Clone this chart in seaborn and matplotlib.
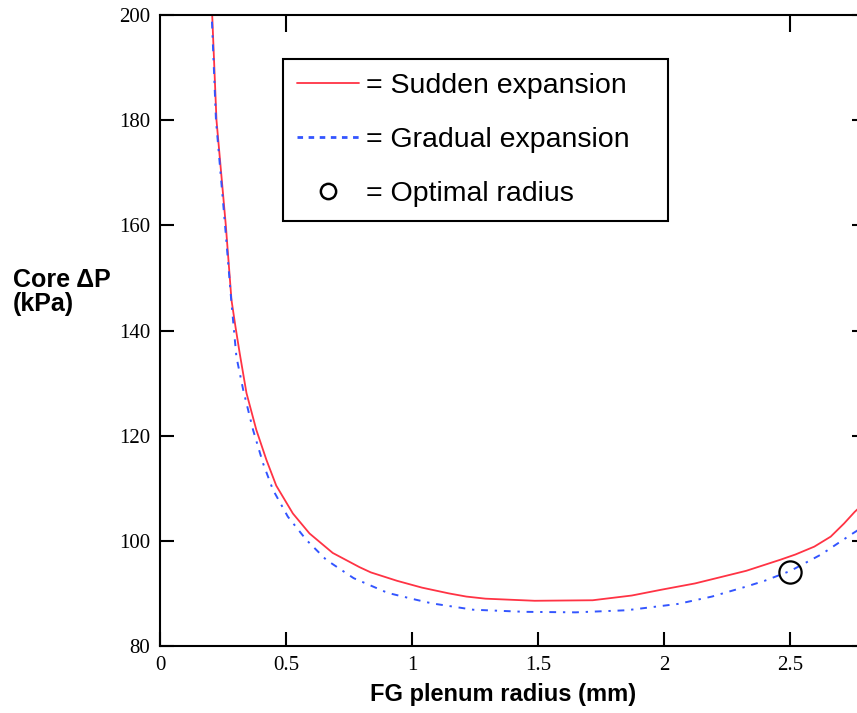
import matplotlib
matplotlib.use("Agg")
import matplotlib.pyplot as plt
from matplotlib.lines import Line2D
import seaborn as sns
import pandas as pd

# ---- data ----
sudden_x = [0.200, 0.207, 0.224, 0.261, 0.2835, 0.300, 0.316, 0.343, 0.382, 0.422,
            0.461, 0.527, 0.593, 0.685, 0.791, 0.836, 0.940, 1.039, 1.146, 1.215,
            1.291, 1.486, 1.716, 1.871, 1.988, 2.122, 2.266, 2.325, 2.460, 2.520,
            2.595, 2.660, 2.713, 2.755, 2.800]
sudden_y = [204.0, 200.0, 180.0, 160.0, 145.8, 140.5, 135.7, 128.1, 121.1, 115.4,
            110.5, 105.2, 101.4, 97.7, 95.0, 94.0, 92.4, 91.1, 90.0, 89.4,
            89.0, 88.6, 88.7, 89.6, 90.7, 91.9, 93.6, 94.3, 96.4, 97.4,
            98.9, 100.8, 103.3, 105.5, 107.5]

gradual_x = [0.198, 0.205, 0.222, 0.258, 0.283, 0.303, 0.330, 0.369, 0.409, 0.448,
             0.507, 0.580, 0.659, 0.768, 0.903, 1.015, 1.079, 1.242, 1.445, 1.648,
             1.851, 2.054, 2.189, 2.325, 2.398, 2.501, 2.622, 2.744, 2.800]
gradual_y = [204.0, 200.0, 180.0, 160.0, 145.5, 135.0, 128.7, 121.1, 114.7, 109.7,
             104.6, 100.2, 96.4, 92.9, 90.1, 88.8, 88.1, 86.9, 86.5, 86.4,
             86.8, 88.0, 89.4, 91.3, 92.4, 94.3, 97.4, 101.3, 103.0]

optimal_x = [2.5]
optimal_y = [94.0]

x_ticks = [0, 0.5, 1, 1.5, 2, 2.5]
x_tick_labels = ["0", "0.5", "1", "1.5", "2", "2.5"]
y_ticks = [80, 100, 120, 140, 160, 180, 200]

legend_labels = ["= Sudden expansion", "= Gradual expansion", "= Optimal radius"]

# ---- style ----
sns.set_theme(style="white")
plt.rcParams["font.family"] = ["Liberation Serif", "DejaVu Serif"]
plt.rcParams["text.color"] = "black"
plt.rcParams["axes.labelcolor"] = "black"
plt.rcParams["xtick.color"] = "black"
plt.rcParams["ytick.color"] = "black"

RED = "#ff3344"
BLUE = "#3355ff"
SANS = ["Liberation Sans", "DejaVu Sans"]

fig = plt.figure(figsize=(8.57, 7.13), dpi=100)
ax = fig.add_axes([160 / 857, 67 / 713, 706 / 857, 631 / 713])

df_s = pd.DataFrame({"x": sudden_x, "y": sudden_y})
df_g = pd.DataFrame({"x": gradual_x, "y": gradual_y})

sns.lineplot(data=df_s, x="x", y="y", ax=ax, color=RED, linewidth=1.3,
             sort=False, estimator=None)
sns.lineplot(data=df_g, x="x", y="y", ax=ax, color=BLUE, linewidth=1.4,
             sort=False, estimator=None, linestyle=(0, (3.5, 3.5, 1.2, 3.5)))
ax.plot(optimal_x, optimal_y, linestyle="none", marker="o", markersize=16,
        markerfacecolor="none", markeredgecolor="black", markeredgewidth=1.6)

ax.set_xlim(0, 2.8)
ax.set_ylim(80, 200)
ax.set_xticks(x_ticks)
ax.set_xticklabels(x_tick_labels)
ax.set_yticks(y_ticks)

for s in ax.spines.values():
    s.set_color("black")
    s.set_linewidth(1.5)

ax.tick_params(axis="both", direction="in", length=10, width=1.5, colors="black",
               labelsize=15, pad=7, left=True, bottom=True, right=True)
ax.tick_params(axis="y", which="both", labelright=False)

top = ax.secondary_xaxis("top")
top.set_xticks([0.5, 2.5])
top.set_xticklabels(["", ""])
top.tick_params(direction="in", length=12, width=1.5, colors="black")

ax.set_xlabel("FG plenum radius (mm)", family=SANS, fontweight="bold",
              fontsize=17, color="black")
ax.xaxis.set_label_coords(0.486, -0.058)
ax.set_ylabel("Core \u0394P\n(kPa)", family=SANS, fontweight="bold", fontsize=18,
              rotation=0, ha="left", va="center", linespacing=1.0, color="black")
ax.yaxis.set_label_coords(-0.208, 0.561)

handles = [
    Line2D([], [], color=RED, linewidth=1.3),
    Line2D([], [], color=BLUE, linewidth=2.0, linestyle=(0, (2.0, 2.0))),
    Line2D([], [], color="black", linestyle="none", marker="o", markersize=11,
           markerfacecolor="none", markeredgewidth=1.8),
]
leg = ax.legend(handles, legend_labels, loc="upper left",
                bbox_to_anchor=(0.174, 0.930, 0.546, 0.0), mode="expand",
                prop={"family": SANS, "size": 20.5},
                frameon=True, fancybox=False, framealpha=1, edgecolor="black",
                handlelength=2.18, handletextpad=0.25, labelspacing=0.98,
                borderpad=0.5, borderaxespad=0)
leg.get_frame().set_linewidth(1.5)
for t in leg.get_texts():
    t.set_color("black")

fig.savefig("out.png", dpi=100)
